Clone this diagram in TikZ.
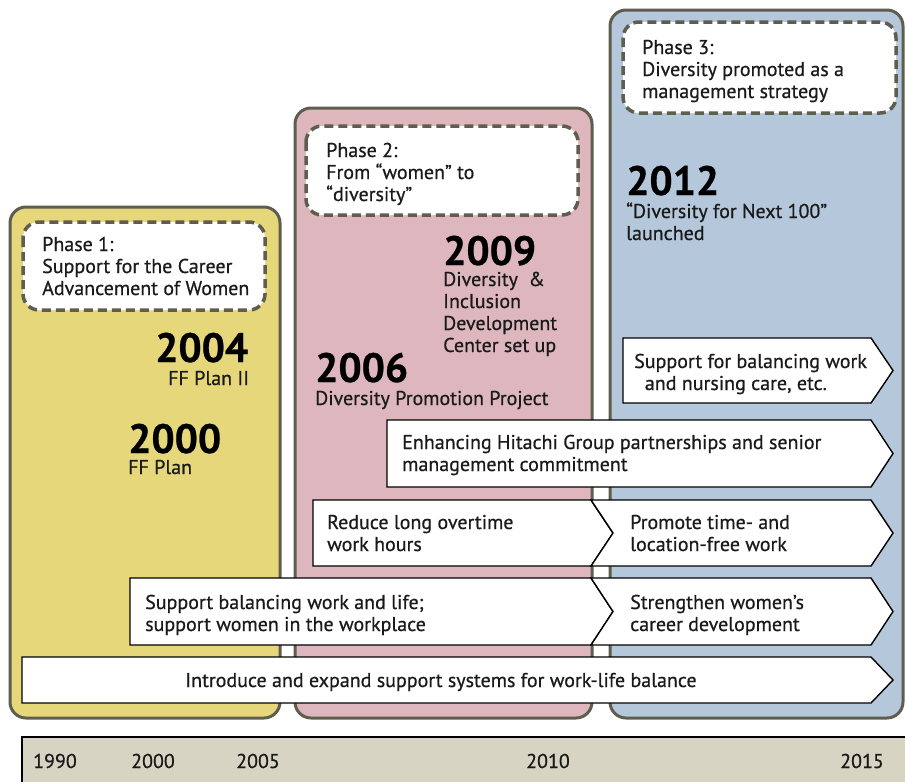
\documentclass[tikz,border=0pt]{standalone}
\usepackage{fontspec}
\setmainfont{PT Sans}[FakeBold=0.6]
\definecolor{edgec}{HTML}{5E5D4E}
\definecolor{yelc}{HTML}{E6D77B}
\definecolor{pinkc}{HTML}{DDB7BD}
\definecolor{bluec}{HTML}{B4C7DB}
\definecolor{barc}{HTML}{D7D4C3}
\definecolor{txtc}{HTML}{1A1A1A}
\tikzset{
  panel/.style={draw=edgec, line width=3pt, rounded corners=16pt},
  phasebox/.style={draw=edgec, fill=white, line width=3.5pt, dash pattern=on 9pt off 5pt, rounded corners=16pt},
  txt/.style={inner sep=0pt, anchor=base west, align=left, text=txtc, font=\fontsize{20}{22}\selectfont},
  yeartxt/.style={inner sep=0pt, anchor=base west, text=black, text depth=0pt, font=\fontsize{41}{42}\selectfont\bfseries},
  arrowbox/.style={draw=black, fill=white, line width=1.4pt, line join=miter}
}
\begin{document}
\begin{tikzpicture}[x=1pt,y=-1pt]
\useasboundingbox (0,0) rectangle (905,782);
% panels
\draw[panel, fill=yelc] (10,207) rectangle (280,718);
\draw[panel, fill=pinkc] (295,108) rectangle (592,718);
\draw[panel, fill=bluec] (610,10) rectangle (903,718);
% phase boxes
\draw[phasebox] (23,222) rectangle (265,310);
\draw[phasebox] (306,126) rectangle (578,215);
\draw[phasebox] (623,22) rectangle (896,113);
\node[txt] (p1) at (42,295) {Phase 1:\\Support for the Career\\Advancement of Women};
\node[txt] (p2) at (326,201) {Phase 2:\\From “women” to\\“diversity”};
\node[txt] (p3) at (642,98) {Phase 3:\\Diversity promoted as a\\management strategy};
% years
\node[yeartxt] (y2004) at (155,362) {2004};
\node[txt] (t2004) at (168,385) {FF Plan II};
\node[yeartxt] (y2000) at (128,453) {2000};
\node[txt] (t2000) at (128,474) {FF Plan};
\node[yeartxt] (y2009) at (443,265) {2009};
\node[txt] (t2009) at (443,352) {Diversity~ \&\\Inclusion\\Development\\Center set up};
\node[yeartxt] (y2006) at (315,382) {2006};
\node[txt] (t2006) at (315,405) {Diversity Promotion Project};
\node[yeartxt] (y2012) at (626,195) {2012};
\node[txt] (t2012) at (626,240) {“Diversity for Next 100”\\launched};
% arrows
\draw[arrowbox] (623,338) -- (871,338) -- (893,370.5) -- (871,403) -- (623,403) -- cycle;
\node[txt] (a1) at (634,390) {Support for balancing work\\\ \ and nursing care, etc.};
\draw[arrowbox] (387,420) -- (871,420) -- (893,453.5) -- (871,487) -- (387,487) -- cycle;
\node[txt] (a2) at (402,471) {Enhancing Hitachi Group partnerships and senior\\management commitment};
\draw[arrowbox] (313,500) -- (591,500) -- (613,533) -- (591,566) -- (313,566) -- cycle;
\draw[arrowbox] (591,500) -- (871,500) -- (893,533) -- (871,566) -- (591,566) -- (613,533) -- cycle;
\node[txt] (a3) at (327,551) {Reduce long overtime\\work hours};
\node[txt] (a3b) at (630,551) {Promote time- and\\location-free work};
\draw[arrowbox] (130,578) -- (591,578) -- (613,611.5) -- (591,645) -- (130,645) -- cycle;
\draw[arrowbox] (591,578) -- (871,578) -- (893,611.5) -- (871,645) -- (591,645) -- (613,611.5) -- cycle;
\node[txt] (a4) at (145,631) {Support balancing work and life;\\support women in the workplace};
\node[txt] (a4b) at (630,631) {Strengthen women’s\\career development};
\draw[arrowbox] (22,657) -- (871,657) -- (893,680) -- (871,703) -- (22,703) -- cycle;
\node[txt, anchor=base] (a5) at (441,687) {Introduce and expand support systems for work-life balance};
% timeline bar
\fill[barc] (22,737) rectangle (905,782);
\draw[black, line width=1.5pt] (22,782) -- (22,737) -- (905,737);
\node[txt, anchor=base] (b1990) at (55,768) {1990};
\node[txt, anchor=base] (b2000) at (153,768) {2000};
\node[txt, anchor=base] (b2005) at (258,768) {2005};
\node[txt, anchor=base] (b2010) at (548,768) {2010};
\node[txt, anchor=base] (b2015) at (862,768) {2015};
\end{tikzpicture}
\end{document}
